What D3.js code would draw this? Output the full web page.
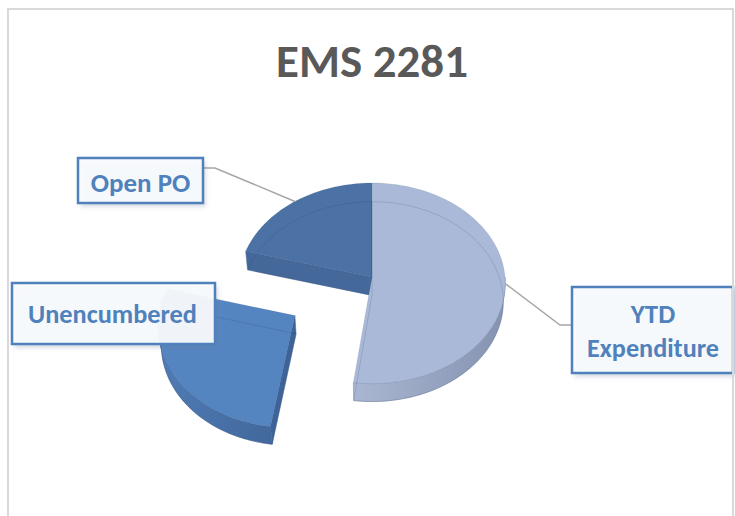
<!DOCTYPE html>
<html><head><meta charset="utf-8">
<script src="https://cdn.jsdelivr.net/npm/d3@7"></script>
<style>html,body{margin:0;padding:0;background:#fff;} svg{display:block;}</style>
</head><body>
<svg id="chart" width="735" height="516"></svg>
<script>
// ---------- data ----------
const title = "EMS 2281";
const categories = ["YTD Expenditure", "Unencumbered", "Open PO"];
const labelLines = [["YTD", "Expenditure"], ["Unencumbered"], ["Open PO"]];
const values = [52.1, 27.1, 20.8];
const explodeFrac = [0, 0.68, 0];

// ---------- styles / layout ----------
const topColors  = ["#AAB9D7", "#5585C1", "#4C72A5"];
const sideLight  = ["#A9B7D2", "#4F7BB4", "#4A6E9F"];
const sideDark   = ["#8593B1", "#42689C", "#42648F"];
const radialCol  = ["#97A6C4", "#3D6397", "#45689A"];
const labelBoxes = [
  {x: 572, y: 287, w: 161, h: 86, tx: 653, base: [323, 357], tw: [66, 132]},
  {x: 12,  y: 283, w: 203, h: 61, tx: 112.5, base: [323], tw: [169]},
  {x: 78,  y: 158, w: 125, h: 45, tx: 140.5, base: [192], tw: [107]}
];
const leaders = [
  {box: [572, 325], elbow: [560, 325]},
  null,
  {box: [203, 168], elbow: [215, 168]}
];
const fontFam = "Carlito, Calibri, Lato, sans-serif";

const svg = d3.select("#chart");
const defs = svg.append("defs");
const shadow = defs.append("filter").attr("id", "shadow")
  .attr("x", "-20%").attr("y", "-20%").attr("width", "150%").attr("height", "160%");
shadow.append("feDropShadow").attr("dx", 2.5).attr("dy", 3.5)
  .attr("stdDeviation", 2.5).attr("flood-color", "#6a7c99").attr("flood-opacity", 0.35);

// ---------- projection (perspective 3D pie) ----------
const cx = 372, cy = 277, rx = 133;
const phi = 48.7 * Math.PI / 180, Dd = 10.5, H = 0.213;
const sinP = Math.sin(phi), cosP = Math.cos(phi), S = rx * Dd;
function proj(u, v, h) {
  const Y = v * sinP + h * cosP;
  const Z = Dd + v * cosP - h * sinP;
  return [cx + S * u / Z, cy - S * Y / Z];
}
const cam = [0, -Dd * cosP, Dd * sinP];

const pie = d3.pie().sort(null).value(d => d);
const arcs = pie(values);
const line = d3.line();

function rimPts(o, a0, a1, h, r = 1, n = 80) {
  const pts = [];
  for (let i = 0; i <= n; i++) {
    const a = a0 + (a1 - a0) * i / n;
    pts.push(proj(o[0] + r * Math.sin(a), o[1] + r * Math.cos(a), h));
  }
  return pts;
}

const slices = arcs.map((d, i) => {
  const mid = (d.startAngle + d.endAngle) / 2;
  const o = [explodeFrac[i] * Math.sin(mid), explodeFrac[i] * Math.cos(mid)];
  return {d, i, mid, o};
});

// draw order: far to near (Open PO, YTD, Unencumbered)
const order = [2, 0, 1];

order.forEach(idx => {
  const s = slices[idx];
  const {d, o, i} = s;
  const a0 = d.startAngle, a1 = d.endAngle;
  const g = svg.append("g").attr("class", "slice");

  const grad = defs.append("linearGradient").attr("id", "side" + i)
    .attr("x1", 0).attr("x2", 1).attr("y1", 0).attr("y2", 0);
  grad.append("stop").attr("offset", 0).attr("stop-color", sideLight[i]);
  grad.append("stop").attr("offset", 1).attr("stop-color", sideDark[i]);

  // radial faces
  [[a0, -1], [a1, 1]].forEach(([a, sgn]) => {
    const n = sgn < 0 ? [-Math.cos(a), Math.sin(a)] : [Math.cos(a), -Math.sin(a)];
    const p = [o[0] + 0.5 * Math.sin(a), o[1] + 0.5 * Math.cos(a), -H / 2];
    const dot = n[0] * (cam[0] - p[0]) + n[1] * (cam[1] - p[1]);
    if (dot > 0) {
      const rim = [o[0] + Math.sin(a), o[1] + Math.cos(a)];
      const quad = [proj(o[0], o[1], 0), proj(rim[0], rim[1], 0),
                    proj(rim[0], rim[1], -H), proj(o[0], o[1], -H)];
      g.append("path").attr("d", line(quad) + "Z")
        .attr("fill", radialCol[i]).attr("stroke", radialCol[i]).attr("stroke-width", 0.5);
    }
  });

  // outer side (near half)
  const s0 = Math.max(a0, Math.PI / 2), s1 = Math.min(a1, 3 * Math.PI / 2);
  if (s1 > s0) {
    const topE = rimPts(o, s0, s1, 0);
    const botE = rimPts(o, s0, s1, -H).reverse();
    g.append("path").attr("d", line(topE.concat(botE)) + "Z")
      .attr("fill", `url(#side${i})`).attr("stroke", sideDark[i]).attr("stroke-width", 0.6);
  }

  // top face
  const topPts = [proj(o[0], o[1], 0)].concat(rimPts(o, a0, a1, 0));
  g.append("path").attr("d", line(topPts) + "Z")
    .attr("fill", topColors[i]).attr("stroke", "rgba(40,60,100,0.18)").attr("stroke-width", 0.6);

  // hidden bottom-face edges faintly visible through the translucent slice
  const bottom = [proj(o[0], o[1], -H)].concat(rimPts(o, a0, a1, -H));
  g.append("path").attr("d", line(bottom) + "Z")
    .attr("fill", "none").attr("stroke", "rgba(30,50,90,0.2)").attr("stroke-width", 0.8);
});

// ---------- title ----------
const tt = svg.append("text").attr("x", 372).attr("y", 77).attr("text-anchor", "middle")
  .attr("font-family", fontFam).attr("font-weight", "bold")
  .attr("font-size", 100).attr("fill", "#595959").text(title);
tt.attr("font-size", Math.min(48, 100 * 192 / tt.node().getComputedTextLength()));

// ---------- leader lines ----------
slices.forEach(s => {
  const L = leaders[s.i];
  if (!L) return;
  const end = proj(s.o[0] + Math.sin(s.mid), s.o[1] + Math.cos(s.mid), 0);
  svg.append("path").attr("d", line([L.box, L.elbow, end]))
    .attr("fill", "none").attr("stroke", "#A6A6A6").attr("stroke-width", 1.5);
});

// ---------- labels ----------
labelLines.forEach((lines, i) => {
  const b = labelBoxes[i];
  const g = svg.append("g");
  g.append("rect").attr("x", b.x).attr("y", b.y).attr("width", b.w).attr("height", b.h)
    .attr("fill", "#ffffff").attr("fill-opacity", 0.88).attr("filter", "url(#shadow)");
  g.append("rect").attr("x", b.x).attr("y", b.y).attr("width", b.w).attr("height", b.h)
    .attr("fill", "#F3F6FB").attr("fill-opacity", 0.55)
    .attr("stroke", "#4F81BD").attr("stroke-width", 2.5);
  lines.forEach((t, k) => {
    const txt = g.append("text").attr("x", b.tx).attr("y", b.base[k]).attr("text-anchor", "middle")
      .attr("font-family", fontFam).attr("font-weight", "bold")
      .attr("font-size", 100).attr("fill", "#4F81BD").text(t);
    const w = txt.node().getComputedTextLength();
    txt.attr("font-size", Math.min(100 * b.tw[k] / w, 27));
  });
});

// ---------- chart border ----------
svg.append("path").attr("d", "M8,520 L8,9 L733,9 L733,520")
  .attr("fill", "none").attr("stroke", "#D9D9D9").attr("stroke-width", 2);
</script>
</body></html>
